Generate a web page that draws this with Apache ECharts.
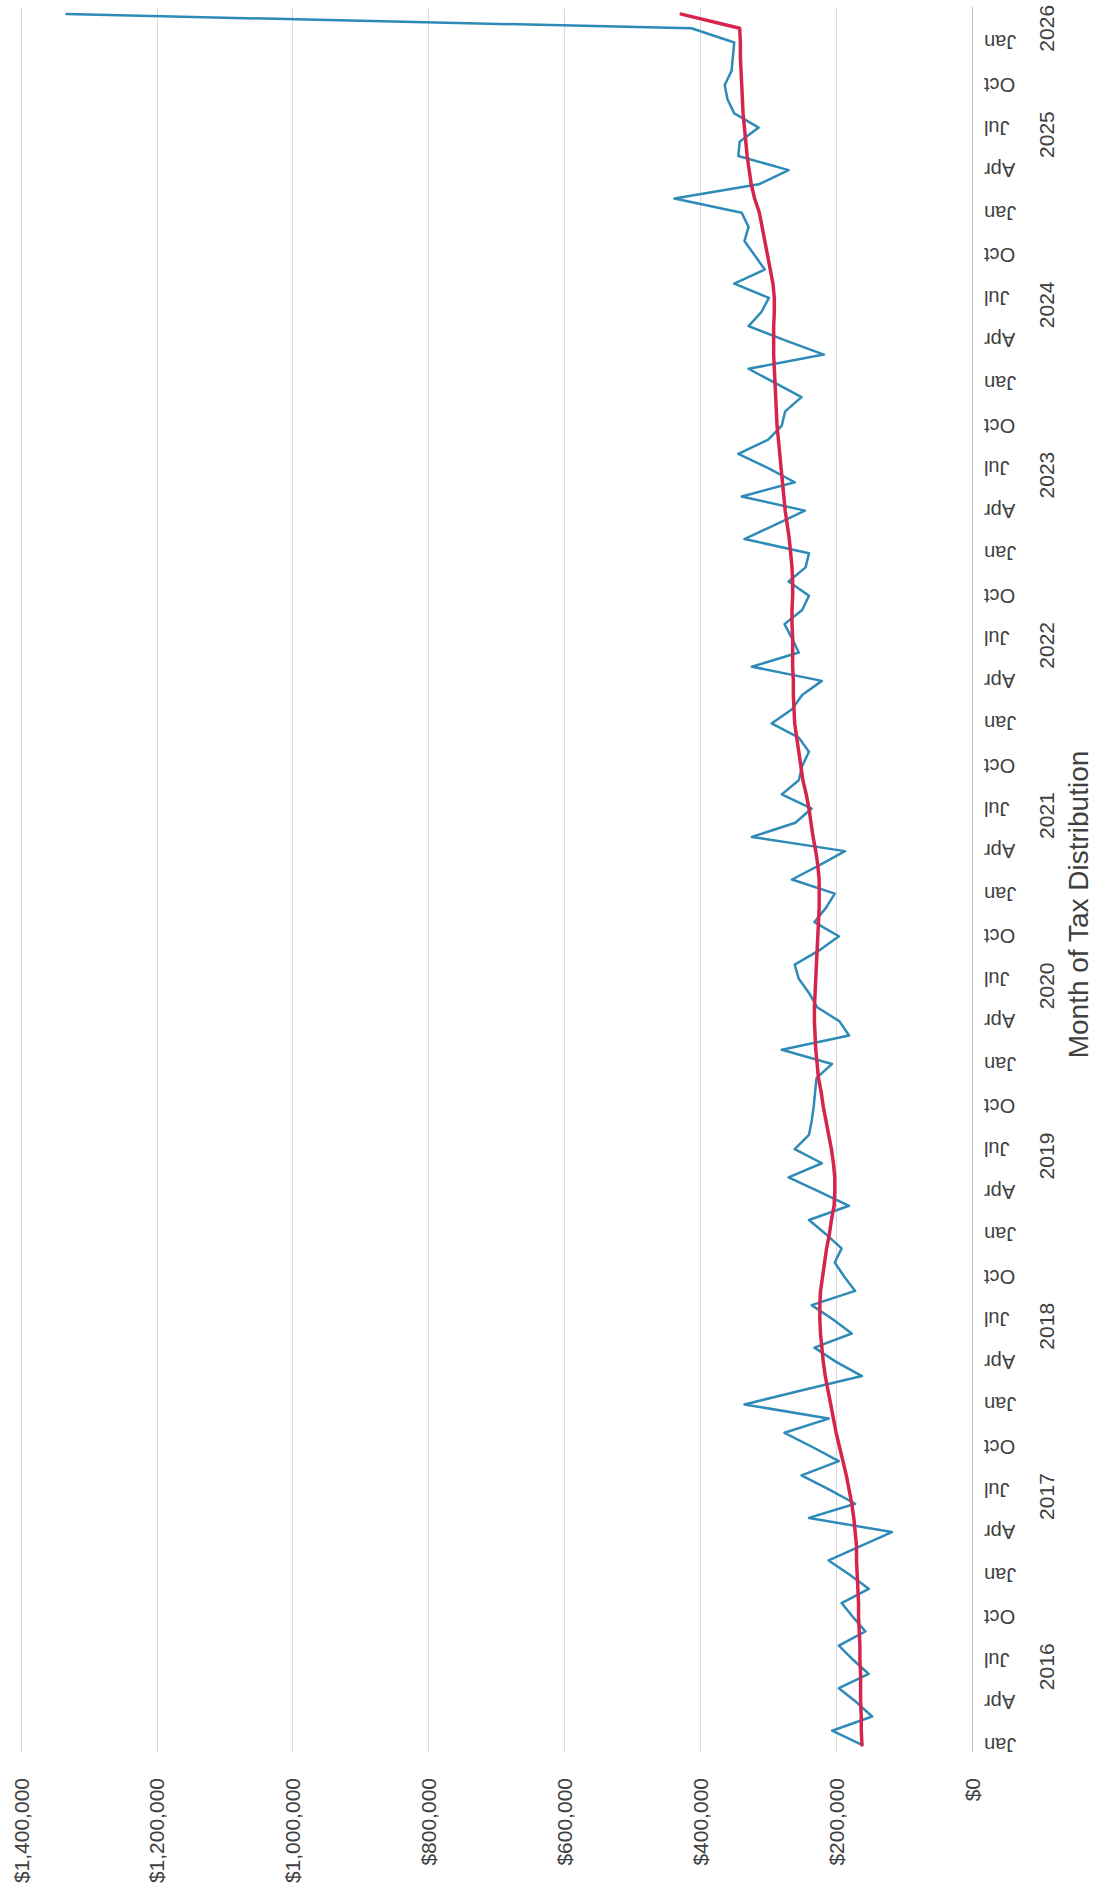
<!DOCTYPE html>
<html>
<head>
<meta charset="utf-8">
<title>Monthly Tax Distribution</title>
<script src="https://cdn.jsdelivr.net/npm/echarts@6.0.0/dist/echarts.min.js"></script>
<style>
  html, body { margin: 0; padding: 0; background: #ffffff; }
  #chart { width: 1094px; height: 1892px; }
</style>
</head>
<body>
<div id="chart"></div>
<script>
// Month and year names for the category axis (Jan 2016 through Mar 2026)
const monthNames = ['Jan', 'Feb', 'Mar', 'Apr', 'May', 'Jun', 'Jul', 'Aug', 'Sep', 'Oct', 'Nov', 'Dec'];
const years = [2016, 2017, 2018, 2019, 2020, 2021, 2022, 2023, 2024, 2025, 2026];
const monthsInFinalYear = 3;

// Monthly tax distribution, dollars
const monthlyDistribution = [
  162000, 206000, 147000, 170000, 196000, 152000, 175000, 196000, 157000, 175000, 192000, 152000,
  180000, 211000, 165000, 118000, 240000, 172000, 210000, 251000, 196000, 235000, 276000, 211000,
  335000, 250000, 162000, 200000, 232000, 177000, 205000, 236000, 172000, 188000, 202000, 192000,
  215000, 240000, 181000, 225000, 270000, 221000, 261000, 240000, 236000, 233000, 231000, 229000,
  206000, 280000, 181000, 195000, 228000, 240000, 255000, 261000, 225000, 196000, 232000, 215000,
  202000, 265000, 225000, 187000, 324000, 260000, 236000, 280000, 255000, 250000, 240000, 255000,
  295000, 265000, 250000, 221000, 324000, 255000, 265000, 276000, 250000, 240000, 270000, 245000,
  240000, 335000, 290000, 246000, 339000, 261000, 300000, 344000, 300000, 280000, 275000, 251000,
  290000, 329000, 218000, 275000, 329000, 310000, 299000, 350000, 305000, 320000, 335000, 329000,
  339000, 438000, 314000, 270000, 344000, 342000, 314000, 350000, 360000, 364000, 354000, 352000,
  350000, 413000, 1333000
];

// Trailing average of the distribution, dollars
const rollingAverage = [
  162000, 163000, 163000, 164000, 164000, 164000, 165000, 165000, 166000, 167000, 167000, 168000,
  169000, 170000, 170000, 172000, 174000, 177000, 181000, 185000, 190000, 195000, 200000, 204000,
  208000, 212000, 216000, 219000, 221000, 223000, 224000, 224000, 223000, 220000, 217000, 214000,
  210000, 207000, 203000, 202000, 202000, 204000, 207000, 211000, 215000, 219000, 222000, 226000,
  228000, 230000, 231000, 232000, 232000, 231000, 230000, 229000, 228000, 227000, 226000, 225000,
  225000, 225000, 227000, 230000, 234000, 237000, 240000, 244000, 249000, 252000, 255000, 258000,
  261000, 262000, 263000, 263000, 264000, 264000, 264000, 265000, 265000, 264000, 264000, 265000,
  267000, 269000, 272000, 275000, 277000, 279000, 281000, 283000, 285000, 287000, 288000, 289000,
  290000, 291000, 292000, 292000, 292000, 291000, 291000, 293000, 297000, 301000, 305000, 309000,
  313000, 320000, 325000, 328000, 331000, 333000, 335000, 337000, 338000, 339000, 340000, 341000,
  341000, 342000, 428000
];

// Value axis ticks
const valueMin = 0;
const valueMax = 1400000;
const valueStep = 200000;

const FONT = "'Liberation Sans', Arial, sans-serif";
const LABEL_COLOR = '#404040';

// Category labels such as "Jan 2016"
const categories = [];
years.forEach(function (y, yi) {
  const count = yi === years.length - 1 ? monthsInFinalYear : monthNames.length;
  for (let m = 0; m < count; m++) categories.push(monthNames[m] + ' ' + y);
});

// Full years are labelled between June and July; the partial final year at its middle month
const yearLabelIndex = new Set();
years.forEach(function (y, yi) {
  if (yi === years.length - 1) {
    yearLabelIndex.add(yi * 12 + Math.floor(monthsInFinalYear / 2));
  } else {
    yearLabelIndex.add(yi * 12 + 6);
  }
});
const finalYear = String(years[years.length - 1]);

const chart = echarts.init(document.getElementById('chart'), null, { renderer: 'svg' });

chart.setOption({
  animation: false,
  backgroundColor: '#ffffff',
  textStyle: { fontFamily: FONT },
  grid: { left: 21, right: 122, top: 7, bottom: 140, containLabel: false, outerBoundsMode: 'none' },
  xAxis: {
    type: 'value',
    inverse: true,
    position: 'bottom',
    min: valueMin,
    max: valueMax,
    interval: valueStep,
    axisLine: { show: false },
    axisTick: { show: false },
    splitLine: { show: true, lineStyle: { color: '#d9d9d9', width: 1 } },
    axisLabel: {
      rotate: 90,
      margin: 26,
      fontSize: 21,
      fontFamily: FONT,
      color: LABEL_COLOR,
      formatter: function (v) { return '$' + Number(v).toLocaleString('en-US'); }
    }
  },
  yAxis: [
    {
      type: 'category',
      data: categories,
      position: 'right',
      boundaryGap: true,
      axisLine: { show: true, lineStyle: { color: '#bfbfbf', width: 1 } },
      axisTick: { show: false },
      splitLine: { show: false },
      axisLabel: {
        interval: 2,
        rotate: 180,
        align: 'right',
        verticalAlign: 'middle',
        margin: 12,
        fontSize: 20,
        fontFamily: FONT,
        color: LABEL_COLOR,
        formatter: function (v) { return v.split(' ')[0]; }
      }
    },
    {
      type: 'category',
      data: categories,
      position: 'right',
      boundaryGap: true,
      axisLine: { show: false },
      axisTick: { show: false },
      splitLine: { show: false },
      axisLabel: {
        interval: function (index) { return yearLabelIndex.has(index); },
        rotate: 90,
        align: 'center',
        verticalAlign: 'top',
        margin: 64,
        fontSize: 21,
        fontFamily: FONT,
        color: LABEL_COLOR,
        formatter: function (v) {
          const yr = v.split(' ')[1];
          return yr === finalYear ? '{mid|' + yr + '}' : '{half|' + yr + '}';
        },
        rich: {
          half: { fontSize: 21, fontFamily: FONT, color: LABEL_COLOR, padding: [0, 14, 0, 0] },
          mid: { fontSize: 21, fontFamily: FONT, color: LABEL_COLOR }
        }
      },
      name: 'Month of Tax Distribution',
      nameLocation: 'middle',
      nameRotate: 90,
      nameGap: 92,
      nameTextStyle: {
        fontSize: 28,
        fontFamily: FONT,
        color: LABEL_COLOR,
        align: 'center',
        verticalAlign: 'top',
        padding: [0, 50, 0, 0]
      }
    }
  ],
  series: [
    {
      name: 'Monthly Distribution',
      type: 'line',
      yAxisIndex: 0,
      data: monthlyDistribution,
      showSymbol: false,
      symbol: 'none',
      lineStyle: { color: '#2e8bb8', width: 2.5, join: 'round', cap: 'round' },
      itemStyle: { color: '#2e8bb8' },
      z: 2
    },
    {
      name: 'Trailing Average',
      type: 'line',
      yAxisIndex: 0,
      data: rollingAverage,
      showSymbol: false,
      symbol: 'none',
      lineStyle: { color: '#d6254d', width: 3.5, join: 'round', cap: 'round' },
      itemStyle: { color: '#d6254d' },
      z: 3
    }
  ]
});
</script>
</body>
</html>
